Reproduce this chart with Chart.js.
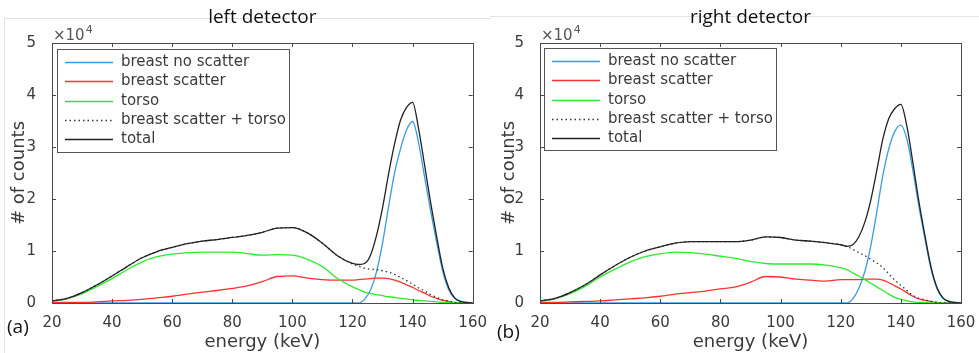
<!DOCTYPE html>
<html>
<head>
<meta charset="utf-8">
<script src="https://cdn.jsdelivr.net/npm/chart.js@4.4.0/dist/chart.umd.min.js"></script>
<style>
  body { margin: 0; background: #fff; width: 979px; height: 353px; overflow: hidden; position: relative; }
  canvas { position: absolute; top: 0; }
  #leftChart { left: 0; }
  #rightChart { left: 490px; }
  .frame { position: absolute; border: 0 solid #e2e2e2; }
</style>
</head>
<body>
<div class="frame" style="left:4px; top:18px; width:486px; height:340px; border-top-width:1px; border-left-width:1px;"></div>
<div class="frame" style="left:490px; top:16px; width:489px; height:0; border-top-width:1px;"></div>
<canvas id="leftChart" width="490" height="353"></canvas>
<canvas id="rightChart" width="489" height="353"></canvas>
<script>
// energy bins (keV)
const energy = [20, 25, 30, 35, 40, 45, 50, 55, 60, 65, 70, 75, 80, 85, 90, 95, 100, 105, 110, 115, 120,
                122, 124, 126, 128, 130, 132, 134, 136, 138, 140, 142, 144, 146, 148, 150, 152, 154, 156, 158, 160];

// counts, in units of 10^4
const leftNoScatter = [0, 0, 0, 0, 0, 0, 0, 0, 0, 0, 0, 0, 0, 0, 0, 0, 0, 0, 0, 0, 0,
    0, 0.07, 0.25, 0.6, 1.15, 1.85, 2.5, 2.97, 3.33, 3.49, 3.08, 2.42, 1.77, 1.17, 0.62, 0.26, 0.09, 0.03, 0.01, 0];
const leftScatter = [0.01, 0.01, 0.01, 0.02, 0.04, 0.05, 0.07, 0.10, 0.13, 0.17, 0.21, 0.24, 0.28, 0.33, 0.41, 0.51, 0.52, 0.48, 0.45, 0.44, 0.44,
    0.45, 0.46, 0.47, 0.48, 0.48, 0.47, 0.44, 0.40, 0.35, 0.30, 0.24, 0.19, 0.13, 0.09, 0.05, 0.03, 0.01, 0, 0, 0];
const leftTorso = [0.03, 0.08, 0.18, 0.32, 0.47, 0.64, 0.79, 0.89, 0.94, 0.97, 0.98, 0.98, 0.98, 0.95, 0.92, 0.93, 0.92, 0.84, 0.70, 0.47, 0.31,
    0.26, 0.21, 0.18, 0.16, 0.14, 0.12, 0.11, 0.09, 0.08, 0.06, 0.05, 0.04, 0.03, 0.02, 0.01, 0.01, 0, 0, 0, 0];
const leftScatterTorso = [0.04, 0.09, 0.20, 0.35, 0.52, 0.70, 0.87, 0.99, 1.07, 1.14, 1.19, 1.22, 1.26, 1.30, 1.36, 1.44, 1.45, 1.35, 1.15, 0.91, 0.75,
    0.71, 0.67, 0.65, 0.64, 0.62, 0.59, 0.55, 0.49, 0.43, 0.36, 0.29, 0.23, 0.16, 0.11, 0.06, 0.04, 0.01, 0, 0, 0];
const leftTotal = [0.04, 0.09, 0.20, 0.35, 0.52, 0.70, 0.87, 0.99, 1.07, 1.14, 1.19, 1.22, 1.26, 1.30, 1.36, 1.44, 1.45, 1.35, 1.15, 0.91, 0.76,
    0.74, 0.76, 0.92, 1.30, 1.83, 2.48, 3.06, 3.52, 3.76, 3.86, 3.35, 2.65, 1.93, 1.28, 0.68, 0.30, 0.10, 0.03, 0.01, 0];

const rightNoScatter = [0, 0, 0, 0, 0, 0, 0, 0, 0, 0, 0, 0, 0, 0, 0, 0, 0, 0, 0, 0, 0,
    0, 0.08, 0.28, 0.6, 1.1, 1.75, 2.45, 2.97, 3.3, 3.42, 3.15, 2.55, 1.86, 1.24, 0.66, 0.28, 0.09, 0.03, 0.01, 0];
const rightScatter = [0.01, 0.01, 0.02, 0.03, 0.04, 0.06, 0.08, 0.10, 0.13, 0.17, 0.20, 0.23, 0.27, 0.31, 0.40, 0.51, 0.50, 0.46, 0.44, 0.42, 0.45,
    0.45, 0.45, 0.45, 0.46, 0.46, 0.46, 0.44, 0.39, 0.33, 0.27, 0.20, 0.13, 0.08, 0.05, 0.03, 0.01, 0, 0, 0, 0];
const rightTorso = [0.03, 0.08, 0.18, 0.32, 0.50, 0.65, 0.79, 0.89, 0.95, 0.98, 0.97, 0.94, 0.90, 0.86, 0.80, 0.76, 0.75, 0.75, 0.75, 0.73, 0.68,
    0.64, 0.58, 0.52, 0.45, 0.38, 0.31, 0.24, 0.17, 0.11, 0.07, 0.04, 0.02, 0.01, 0.01, 0, 0, 0, 0, 0, 0];
const rightScatterTorso = [0.04, 0.09, 0.20, 0.35, 0.54, 0.72, 0.88, 1.00, 1.08, 1.15, 1.18, 1.18, 1.18, 1.18, 1.21, 1.27, 1.26, 1.21, 1.19, 1.16, 1.12,
    1.09, 1.03, 0.97, 0.91, 0.84, 0.77, 0.68, 0.56, 0.44, 0.34, 0.24, 0.15, 0.09, 0.06, 0.03, 0.01, 0, 0, 0, 0];
const rightTotal = [0.04, 0.09, 0.20, 0.35, 0.54, 0.72, 0.88, 1.00, 1.08, 1.15, 1.18, 1.18, 1.18, 1.18, 1.21, 1.27, 1.26, 1.21, 1.19, 1.16, 1.12,
    1.09, 1.12, 1.27, 1.55, 1.98, 2.55, 3.15, 3.55, 3.74, 3.82, 3.40, 2.70, 1.95, 1.30, 0.70, 0.30, 0.10, 0.03, 0.01, 0];

const seriesNames = ['breast no scatter', 'breast scatter', 'torso', 'breast scatter + torso', 'total'];
const xTicks = [20, 40, 60, 80, 100, 120, 140, 160];
const yTicks = [0, 1, 2, 3, 4, 5];
const yUnit = 1e4;

const axisColor = '#4a4a4a';
const textColor = '#3a3a3a';

// MATLAB-like box, inward ticks, legend and labels
const axesDecor = {
    id: 'axesDecor',
    afterDatasetsDraw(chart, args, opts) {
        const { ctx, chartArea: a, scales: { x, y } } = chart;
        ctx.save();
        ctx.strokeStyle = axisColor;
        ctx.lineWidth = 1;
        ctx.beginPath();
        xTicks.forEach(v => {
            const px = Math.round(x.getPixelForValue(v)) + 0.5;
            ctx.moveTo(px, a.bottom); ctx.lineTo(px, a.bottom - 4);
            ctx.moveTo(px, a.top); ctx.lineTo(px, a.top + 4);
        });
        yTicks.forEach(v => {
            const py = Math.round(y.getPixelForValue(v * yUnit)) + 0.5;
            ctx.moveTo(a.left, py); ctx.lineTo(a.left + 4, py);
            ctx.moveTo(a.right, py); ctx.lineTo(a.right - 4, py);
        });
        ctx.stroke();
        ctx.strokeRect(Math.round(a.left) + 0.5, Math.round(a.top) + 0.5,
                       Math.round(a.right - a.left), Math.round(a.bottom - a.top));

        // legend
        const lb = opts.legendBox;
        const bx = a.left + lb.dx, by = a.top + lb.dy;
        ctx.fillStyle = '#fff';
        ctx.fillRect(bx, by, lb.w, lb.h);
        ctx.strokeStyle = '#555';
        ctx.strokeRect(bx + 0.5, by + 0.5, lb.w, lb.h);
        ctx.font = '15px "DejaVu Sans"';
        ctx.textBaseline = 'middle';
        chart.data.datasets.forEach((ds, i) => {
            const ry = Math.round(by + 13 + i * 19.3) + 0.5;
            ctx.strokeStyle = ds.borderColor;
            ctx.lineWidth = ds.borderWidth;
            ctx.setLineDash(ds.borderDash || []);
            ctx.beginPath();
            ctx.moveTo(bx + 8, ry); ctx.lineTo(bx + 56, ry);
            ctx.stroke();
            ctx.setLineDash([]);
            ctx.fillStyle = textColor;
            ctx.fillText(ds.label, bx + 64, ry);
        });

        // x10^4 multiplier
        ctx.fillStyle = '#555';
        ctx.textBaseline = 'alphabetic';
        ctx.font = '15px "DejaVu Sans"';
        ctx.fillText('\u00d710', a.left + 1, a.top - 3);
        const w = ctx.measureText('\u00d710').width;
        ctx.font = '11px "DejaVu Sans"';
        ctx.fillText('4', a.left + 2 + w, a.top - 10);

        // panel title and tag
        ctx.fillStyle = '#111';
        ctx.font = '19px "Open Sans"';
        ctx.textAlign = 'center';
        ctx.textBaseline = 'middle';
        ctx.fillText(opts.title, (a.left + a.right) / 2, 18);
        ctx.textAlign = 'left';
        ctx.font = '19px "Open Sans"';
        ctx.fillText(opts.tag, 7, opts.tagY);
        ctx.restore();
    }
};

function toPoints(values) {
    return energy.map((e, i) => ({ x: e, y: values[i] * yUnit }));
}

function makePanel(id, data, cfg) {
    const styles = [
        { color: '#3a9be0', dash: [], order: 5 },
        { color: '#ff3030', dash: [], order: 4 },
        { color: '#2bea2b', dash: [], order: 3 },
        { color: '#333333', dash: [1.5, 3], order: 2 },
        { color: '#222222', dash: [], order: 1 }
    ];
    return new Chart(document.getElementById(id), {
        type: 'line',
        data: {
            datasets: data.map((vals, i) => ({
                label: seriesNames[i],
                data: toPoints(vals),
                borderColor: styles[i].color,
                borderDash: styles[i].dash,
                borderWidth: 1.3,
                order: styles[i].order,
                pointRadius: 0,
                fill: false,
                cubicInterpolationMode: 'monotone'
            }))
        },
        options: {
            responsive: false,
            animation: false,
            devicePixelRatio: 1,
            layout: { padding: { top: 43, right: cfg.padRight, left: 0, bottom: 0 } },
            plugins: {
                legend: { display: false },
                tooltip: { enabled: false },
                axesDecor: { title: cfg.title, tag: cfg.tag, tagY: cfg.tagY, legendBox: cfg.legendBox }
            },
            scales: {
                x: {
                    type: 'linear',
                    min: 20, max: 160,
                    afterBuildTicks: s => { s.ticks = xTicks.map(v => ({ value: v })); },
                    afterFit: s => { s.height = 50; },
                    grid: { display: false },
                    border: { display: false },
                    ticks: { padding: 3, color: textColor, font: { family: 'DejaVu Sans', size: 15 }, maxRotation: 0, autoSkip: false },
                    title: { display: true, text: 'energy (keV)', color: textColor, font: { family: 'DejaVu Sans', size: 18 }, padding: { top: 0, bottom: 0 } }
                },
                y: {
                    type: 'linear',
                    min: 0, max: 5 * yUnit,
                    afterBuildTicks: s => { s.ticks = yTicks.map(v => ({ value: v * yUnit })); },
                    afterFit: s => { s.width = cfg.left; },
                    grid: { display: false },
                    border: { display: false },
                    ticks: { padding: 8, color: textColor, font: { family: 'DejaVu Sans', size: 15 }, callback: v => v / yUnit },
                    title: { display: true, text: '# of counts', color: textColor, font: { family: 'DejaVu Sans', size: 18 }, padding: { top: 9, bottom: 0 } }
                }
            }
        },
        plugins: [axesDecor]
    });
}

makePanel('leftChart', [leftNoScatter, leftScatter, leftTorso, leftScatterTorso, leftTotal], {
    title: 'left detector', tag: '(a)', tagY: 328, left: 52, padRight: 17,
    legendBox: { dx: 5, dy: 6, w: 232, h: 103 }
});
makePanel('rightChart', [rightNoScatter, rightScatter, rightTorso, rightScatterTorso, rightTotal], {
    title: 'right detector', tag: '(b)', tagY: 333, left: 50, padRight: 18,
    legendBox: { dx: 4, dy: 5, w: 232, h: 102 }
});
</script>
</body>
</html>
